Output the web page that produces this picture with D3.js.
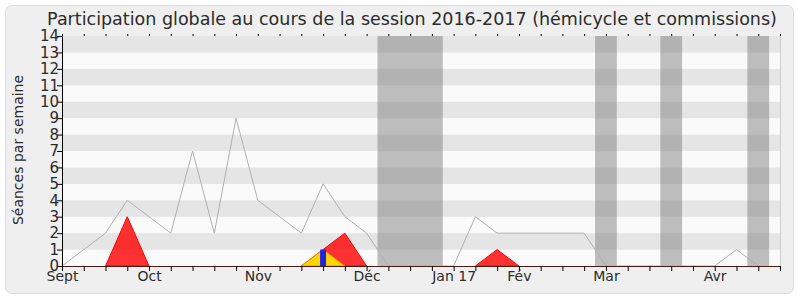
<!DOCTYPE html>
<html>
<head>
<meta charset="utf-8">
<script src="https://cdn.jsdelivr.net/npm/d3@7"></script>
<style>
  body { margin: 0; background: #fff; }
  text { font-family: "DejaVu Sans", sans-serif; fill: #2b2b2b; }
</style>
</head>
<body>
<div class="chart"></div>
<script>
// DATA ------------------------------
const weeks = d3.range(0, 34);
const monthLabels = ["Sept", "Oct", "Nov", "Déc", "Jan 17", "Fév", "Mar", "Avr"];
const monthWeeks = [0, 4, 9, 14, 18, 21, 25, 30];
const yTicks = d3.range(0, 15);

// vacances (début, fin en semaines)
const vacStart = [14.5, 24.5, 27.5, 31.5];
const vacEnd = [17.5, 25.5, 28.5, 32.5];

// présence totale (ligne grise)
const totalWeeks = [0, 1, 2, 3, 4, 5, 6, 7, 8, 9, 10, 11, 12, 13, 14, 15, 16, 17, 18, 19, 20, 21, 22, 23, 24, 25, 26, 27, 28, 29, 30, 31, 32];
const totalValues = [0, 1, 2, 4, 3, 2, 7, 2, 9, 4, 3, 2, 5, 3, 2, 0, 0, 0, 0, 3, 2, 2, 2, 2, 2, 0, 0, 0, 0, 0, 0, 1, 0];

// hémicycle (zone rouge)
const redWeeks = [2, 3, 4, 11, 12, 13, 14, 19, 20, 21];
const redValues = [0, 3, 0, 0, 1, 2, 0, 0, 1, 0];
// commissions (zone jaune)
const yellowWeeks = [11, 12, 13];
const yellowValues = [0, 1, 0];
// questions (barre bleue)
const blueWeeks = [12];
const blueValues = [1];

// CHART INIT ------------------------------
const W = 800, H = 300;
const margin = ({top: 36, right: 20, bottom: 34, left: 62});

const svg = d3.select(".chart")
    .append("svg")
    .attr("width", W)
    .attr("height", H);

// fond arrondi
svg.append("rect")
    .attr("x", 5.5).attr("y", 5.5)
    .attr("width", 788).attr("height", 288)
    .attr("rx", 6)
    .attr("fill", "#efefef")
    .attr("stroke", "#dedede");

const x = d3.scaleLinear()
    .domain([0, 33])
    .range([margin.left, W - margin.right]);

const y = d3.scaleLinear()
    .domain([0, 14])
    .range([H - margin.bottom, margin.top]);

// bandes horizontales
svg.append("g")
    .selectAll("rect")
    .data(d3.range(0, 14))
    .join("rect")
    .attr("x", x(0))
    .attr("y", d => y(d + 1))
    .attr("width", x(33) - x(0))
    .attr("height", d => y(d) - y(d + 1))
    .attr("fill", d => d % 2 === 1 ? "#e5e5e5" : "#fafafa");

// vacances
svg.append("g")
    .selectAll("rect")
    .data(vacStart)
    .join("rect")
    .attr("x", d => x(d))
    .attr("y", y(14))
    .attr("width", (d, i) => x(vacEnd[i]) - x(d))
    .attr("height", y(0) - y(14))
    .attr("fill", "#808080")
    .attr("fill-opacity", 0.5);

// bord droit
svg.append("line")
    .attr("x1", x(33) + 0.5).attr("x2", x(33) + 0.5)
    .attr("y1", y(14)).attr("y2", y(0))
    .attr("stroke", "#cccccc");

const area = d3.area()
    .x(d => x(d[0]))
    .y0(y(0))
    .y1(d => y(d[1]));

// zone rouge, par morceaux
const redPts = redWeeks.map((w, i) => [w, redValues[i]]);
const redSegs = [redPts.slice(0, 3), redPts.slice(3, 7), redPts.slice(7)];
svg.append("g")
    .selectAll("path")
    .data(redSegs)
    .join("path")
    .attr("d", area)
    .attr("fill", "#ff0000")
    .attr("fill-opacity", 0.8)
    .attr("stroke", "#ff0000")
    .attr("stroke-width", 1);

svg.append("path")
    .datum(yellowWeeks.map((w, i) => [w, yellowValues[i]]))
    .attr("d", area)
    .attr("fill", "#ffd700")
    .attr("stroke", "#ff8c00")
    .attr("stroke-width", 1);

svg.append("g")
    .selectAll("rect")
    .data(blueWeeks)
    .join("rect")
    .attr("x", d => x(d) - 3)
    .attr("y", (d, i) => y(blueValues[i]))
    .attr("width", 6)
    .attr("height", (d, i) => y(0) - y(blueValues[i]))
    .attr("fill", "#2222dd");

// ligne grise
const line = d3.line()
    .x((d, i) => x(totalWeeks[i]))
    .y(d => y(d));

svg.append("path")
    .datum(totalValues)
    .attr("d", line)
    .attr("fill", "none")
    .attr("stroke", "#b0b0b0")
    .attr("stroke-width", 1);

// axes
const xAxis = d3.axisBottom(x)
    .tickValues(weeks)
    .tickSize(5)
    .tickFormat(d => {
        const k = monthWeeks.indexOf(d);
        return k >= 0 ? monthLabels[k] : "";
    });

const xAxisGroup = svg.append("g")
    .attr("transform", "translate(0," + y(0) + ")")
    .call(xAxis);
xAxisGroup.select(".domain").attr("stroke", "#4a1c10");
xAxisGroup.selectAll("text")
    .style("font-size", "14px")
    .attr("dy", "0.6em")
    .attr("y", 7);

const topAxis = svg.append("g")
    .attr("transform", "translate(0," + y(14) + ")")
    .call(d3.axisTop(x).tickValues(weeks).tickSize(2).tickFormat(""));
topAxis.select(".domain").remove();

const yAxis = d3.axisLeft(y)
    .tickValues(yTicks)
    .tickSize(5)
    .tickFormat(d3.format("d"));

const yAxisGroup = svg.append("g")
    .attr("transform", "translate(" + x(0) + ",0)")
    .call(yAxis);
yAxisGroup.selectAll("text")
    .style("font-size", "15px")
    .attr("x", -3);

// titres
svg.append("text")
    .attr("x", 412)
    .attr("y", 25)
    .attr("text-anchor", "middle")
    .style("font-size", "17.5px")
    .text("Participation globale au cours de la session 2016-2017 (hémicycle et commissions)");

svg.append("text")
    .attr("transform", "translate(23,150) rotate(-90)")
    .attr("text-anchor", "middle")
    .style("font-size", "14px")
    .text("Séances par semaine");
</script>
</body>
</html>
